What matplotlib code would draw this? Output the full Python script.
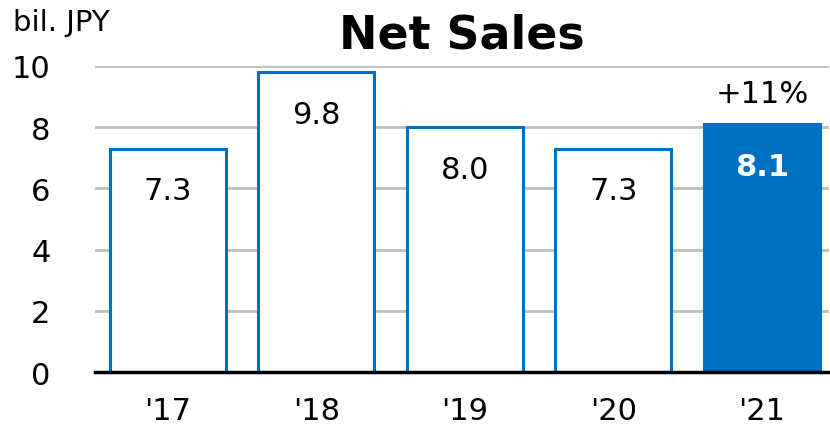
import matplotlib.pyplot as plt

# net sales by fiscal year, bil. JPY
years = ["'17", "'18", "'19", "'20", "'21"]
sales = [7.3, 9.8, 8.0, 7.3, 8.1]
growth_label = "+11%"

blue = "#0070C0"

fig = plt.figure(figsize=(8.3, 4.35), dpi=100)
ax = fig.add_axes([0.1145, 0.1425, 0.884, 0.7035])

x = list(range(len(years)))
faces = ["white"] * (len(years) - 1) + [blue]
ax.bar(x, sales, width=0.78, color=faces, edgecolor=blue, linewidth=2.2, zorder=3)

# value labels inside the bars
for i, v in enumerate(sales):
    last = i == len(sales) - 1
    ax.text(i, v - 1.37, f"{v:.1f}", ha="center", va="center", fontsize=22,
            color="white" if last else "black",
            fontweight="bold" if last else "normal", zorder=4)

ax.text(x[-1], sales[-1] + 1.0, growth_label, ha="center", va="center", fontsize=22)

ax.set_xlim(-0.49, 4.45)
ax.set_ylim(0, 10)
ax.set_yticks(range(0, 11, 2))
ax.set_xticks(x)
ax.set_xticklabels(years)
ax.tick_params(axis="both", length=0, labelsize=22)
ax.tick_params(axis="y", pad=32)
ax.tick_params(axis="x", pad=17)

ax.grid(axis="y", color="#BFBFBF", linewidth=2, zorder=0)
for s in ["top", "right", "left"]:
    ax.spines[s].set_visible(False)
ax.spines["bottom"].set_linewidth(2.5)
ax.spines["bottom"].set_color("black")
ax.spines["bottom"].set_zorder(5)

fig.text(0.557, 0.918, "Net Sales", ha="center", va="center", fontsize=33, fontweight="bold")
fig.text(0.016, 0.948, "bil. JPY", ha="left", va="center", fontsize=21)

fig.savefig("out.png", dpi=100)
